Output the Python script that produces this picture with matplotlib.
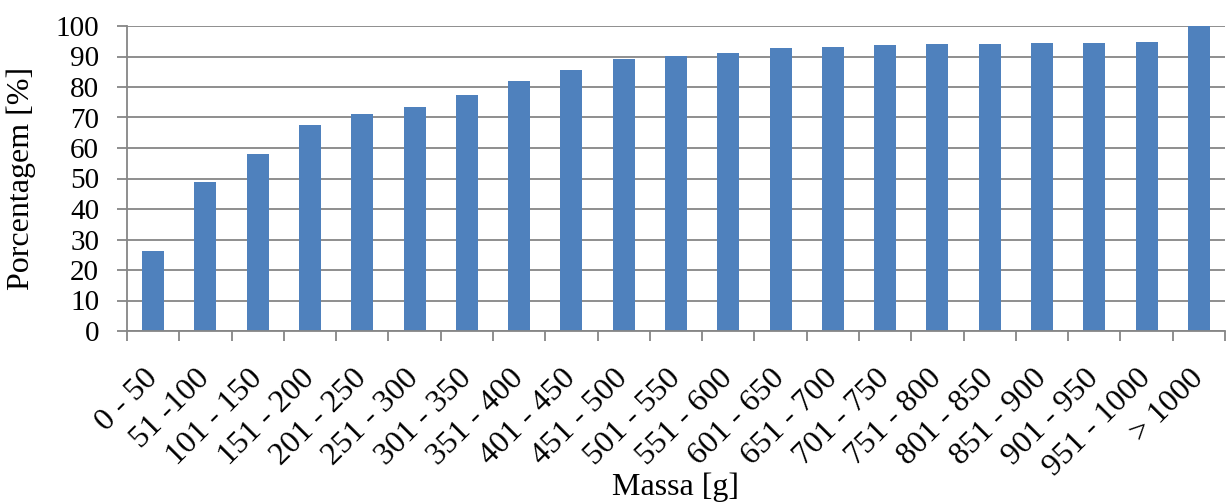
import numpy as np
import matplotlib.pyplot as plt

# classes de massa e porcentagem acumulada
classes = ['0 - 50', '51 -100', '101 - 150', '151 - 200', '201 - 250', '251 - 300',
           '301 - 350', '351 - 400', '401 - 450', '451 - 500', '501 - 550', '551 - 600',
           '601 - 650', '651 - 700', '701 - 750', '751 - 800', '801 - 850', '851 - 900',
           '901 - 950', '951 - 1000', '> 1000']
porcentagem = [26.2, 48.9, 58.0, 67.5, 71.1, 73.4, 77.4, 82.0, 85.6, 89.2, 90.2,
               91.1, 92.8, 93.1, 93.8, 94.1, 94.1, 94.4, 94.4, 94.8, 100.0]
yticks = list(range(0, 101, 10))

plt.rcParams['font.family'] = ['Liberation Serif', 'DejaVu Serif']
cinza = '#868686'

fig = plt.figure(figsize=(12.31, 5.04), dpi=100)
ax = fig.add_axes([127 / 1231, 1 - 331 / 504, (1225 - 127) / 1231, (331 - 26) / 504])

x = np.arange(len(classes))
ax.bar(x, porcentagem, width=0.42, color='#4F81BD', zorder=3)

ax.set_xlim(-0.5, len(classes) - 0.5)
ax.set_ylim(0, 100)
ax.set_yticks(yticks)
ax.yaxis.grid(True, color=cinza, linewidth=1.3, zorder=0)

# traços nos limites das classes, rótulos no centro
ax.set_xticks(np.arange(-0.5, len(classes), 1))
ax.set_xticklabels([])
ax.set_xticks(x, minor=True)
ax.set_xticklabels(classes, minor=True, rotation=45, ha='right', va='center',
                   rotation_mode='anchor', fontsize=23)
ax.tick_params(axis='x', which='major', length=7, width=1.3, color=cinza, direction='out')
ax.tick_params(axis='x', which='minor', length=0, pad=31)
ax.tick_params(axis='y', length=7, width=1.3, color=cinza, labelsize=21, pad=13)

for lado in ['top', 'right']:
    ax.spines[lado].set_visible(False)
for lado in ['left', 'bottom']:
    ax.spines[lado].set_color(cinza)
    ax.spines[lado].set_linewidth(1.3)
    ax.spines[lado].set_zorder(4)

ax.set_xlabel('Massa [g]', fontsize=23)
ax.set_ylabel('Porcentagem [%]', fontsize=23)
ax.xaxis.set_label_coords(0.5, (331 - 473) / 305)
ax.yaxis.set_label_coords((36 - 127) / 1098, 0.5)

fig.savefig('out.png', dpi=100)
